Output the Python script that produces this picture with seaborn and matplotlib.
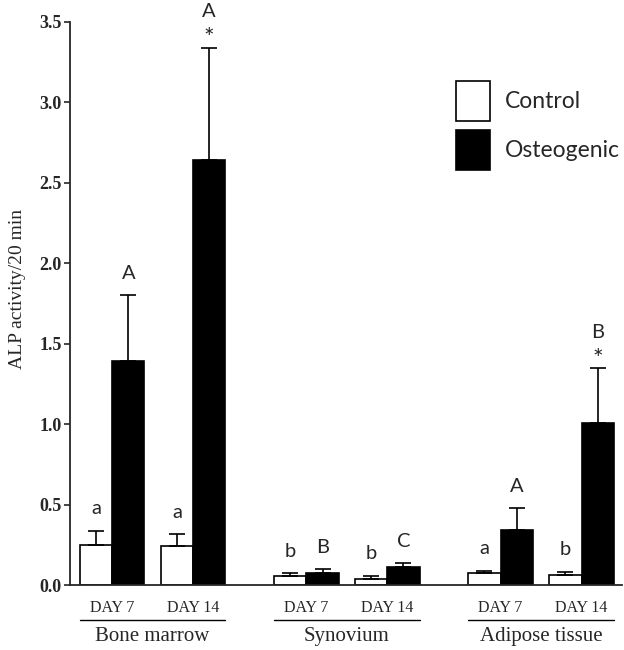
import numpy as np
import pandas as pd
import matplotlib
matplotlib.use("Agg")
import matplotlib.pyplot as plt
import matplotlib.transforms as mtransforms
from matplotlib.patches import Patch
import seaborn as sns

# ----------------------------------------------------------------------------------------------------------------------
# data
groups = ["Bone marrow", "Synovium", "Adipose tissue"]
days = ["DAY 7", "DAY 14"]
treatments = ["Control", "Osteogenic"]

control_mean = [0.25, 0.24, 0.058, 0.035, 0.076, 0.062]
control_err = [0.085, 0.075, 0.015, 0.023, 0.013, 0.021]
osteo_mean = [1.39, 2.64, 0.077, 0.110, 0.342, 1.005]
osteo_err = [0.41, 0.70, 0.020, 0.025, 0.135, 0.342]

control_letters = ["a", "a", "b", "b", "a", "b"]
osteo_letters = ["A", "A", "B", "C", "A", "B"]
osteo_star = [False, True, False, False, False, True]

# layout: x position of each day pair (groups spaced wider than days)
pair_pos = [0, 1, 2.4, 3.4, 4.8, 5.8]
group_center = [0.5, 2.9, 5.3]

rows = []
for i, p in enumerate(pair_pos):
    rows.append({"pos": p, "treatment": "Control", "value": control_mean[i]})
    rows.append({"pos": p, "treatment": "Osteogenic", "value": osteo_mean[i]})
df = pd.DataFrame(rows)

# ----------------------------------------------------------------------------------------------------------------------
sns.set_style("ticks")
plt.rcParams['font.family'] = ['Liberation Serif', 'DejaVu Serif']
sans = ["Lato", "DejaVu Sans"]

fig = plt.figure(figsize=(6.24, 6.5), dpi=100)
ax = fig.add_axes([70 / 624, 65 / 650, 552 / 624, 563 / 650])

sns.barplot(data=df, x="pos", y="value", hue="treatment", hue_order=treatments, native_scale=True,
            palette={"Control": "white", "Osteogenic": "black"}, edgecolor="black", linewidth=1.2,
            width=0.8, errorbar=None, legend=False, ax=ax)

# error bars (upper only) and letters on top of each bar
bars = sorted(ax.patches, key=lambda b: b.get_x())
means, errs, letters, stars = [], [], [], []
for i in range(len(pair_pos)):
    means += [control_mean[i], osteo_mean[i]]
    errs += [control_err[i], osteo_err[i]]
    letters += [control_letters[i], osteo_letters[i]]
    stars += [False, osteo_star[i]]
xc = [b.get_x() + b.get_width() / 2 for b in bars]
ax.errorbar(xc, means, yerr=[np.zeros(len(errs)), errs], fmt="none", ecolor="black",
            elinewidth=1.2, capsize=5.8, capthick=1.2, zorder=3)
for x, m, e, let, st in zip(xc, means, errs, letters, stars):
    if st:
        ax.annotate("*", (x, m + e), xytext=(0, 1), textcoords="offset points", ha="center",
                    va="baseline", fontsize=18, family=sans)
        ax.annotate(let, (x, m + e), xytext=(0, 22), textcoords="offset points", ha="center",
                    va="baseline", fontsize=14.5, family=sans)
    else:
        ax.annotate(let, (x, m + e), xytext=(0, 12), textcoords="offset points", ha="center",
                    va="baseline", fontsize=14.5, family=sans)

# axes styling
ax.set_ylim(0, 3.5)
ax.set_xlim(-0.52, 6.3)
yt = np.arange(0, 3.51, 0.5)
ax.set_yticks(yt)
ax.set_yticklabels([f"{v:.1f}" for v in yt], fontweight="bold", fontsize=13)
ax.set_xticks(pair_pos)
ax.set_xticklabels(days * 3, fontsize=11.5)
ax.tick_params(axis="x", length=0, pad=11)
ax.tick_params(axis="y", length=4, width=1.2, direction="out", pad=2)
ax.set_xlabel("")
ax.set_ylabel("ALP activity/20 min", fontsize=14)
ax.yaxis.set_label_coords(-0.08, 0.525)
sns.despine(ax=ax)
for s in ["left", "bottom"]:
    ax.spines[s].set_linewidth(1.3)

# group lines and names under the axis
trans = mtransforms.blended_transform_factory(ax.transData, ax.transAxes)
for c, name in zip(group_center, groups):
    ax.plot([c - 0.9, c + 0.9], [-0.062, -0.062], color="black", lw=1, transform=trans, clip_on=False)
    ax.text(c, -0.092, name, ha="center", va="center", fontsize=15, transform=trans)

# legend
handles = [Patch(facecolor="white", edgecolor="black", lw=1.2, label="Control"),
           Patch(facecolor="black", edgecolor="black", lw=1.2, label="Osteogenic")]
ax.legend(handles=handles, loc="upper left", bbox_to_anchor=(456 / 624, 1 - 81 / 650),
          bbox_transform=fig.transFigure, frameon=False, prop={"family": sans, "size": 16.5},
          handlelength=1.5, handleheight=2.3, handletextpad=0.65, labelspacing=0.4,
          borderpad=0, borderaxespad=0)

fig.savefig("out.png", dpi=100)
